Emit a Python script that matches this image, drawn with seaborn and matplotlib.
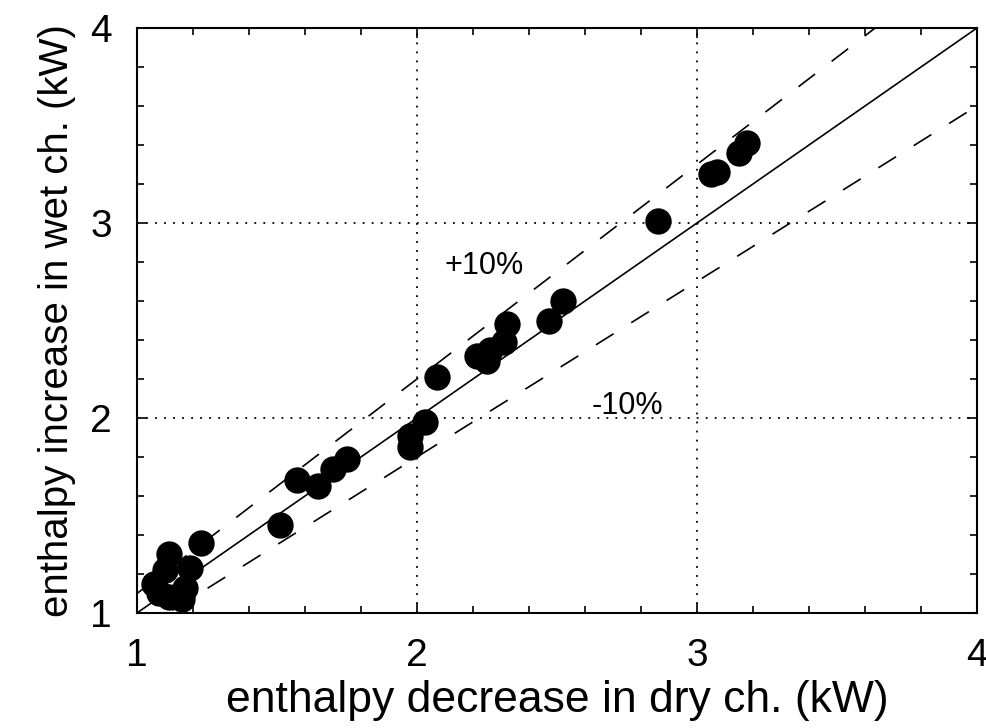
import numpy as np
import matplotlib
matplotlib.use("Agg")
import matplotlib.pyplot as plt
import seaborn as sns
import pandas as pd

# values (kW)
dry_ch = [1.06, 1.10, 1.115, 1.08, 1.17, 1.19, 1.115, 1.16, 1.23, 1.51,
          1.57, 1.645, 1.70, 1.75, 1.975, 1.975, 2.03, 2.07, 2.215, 2.25,
          2.26, 2.31, 2.32, 2.47, 2.52, 2.86, 3.05, 3.07, 3.15, 3.18]
wet_ch = [1.15, 1.22, 1.30, 1.10, 1.13, 1.23, 1.08, 1.07, 1.36, 1.45,
          1.68, 1.65, 1.74, 1.79, 1.91, 1.85, 1.98, 2.21, 2.32, 2.29,
          2.35, 2.39, 2.48, 2.50, 2.60, 3.01, 3.25, 3.26, 3.36, 3.41]

ref_x = [1, 4]
ratios = [1.1, 0.9]

df = pd.DataFrame({"dry": dry_ch, "wet": wet_ch})

sns.set_style("ticks")
plt.rcParams['font.family'] = ['Liberation Sans', 'DejaVu Sans']
plt.rcParams['text.color'] = 'black'
plt.rcParams['axes.labelcolor'] = 'black'
plt.rcParams['xtick.color'] = 'black'
plt.rcParams['ytick.color'] = 'black'

fig = plt.figure(figsize=(9.87, 7.28), dpi=100)
ax = fig.add_axes([0.1388, 0.158, 0.851, 0.8035])

# 1:1 line and +/-10% lines
ax.plot(ref_x, ref_x, color="black", lw=1.2)
for r in ratios:
    ax.plot(ref_x, [v * r for v in ref_x], color="black", lw=1.2,
            linestyle=(0, (12.5, 12.5)))

sns.scatterplot(data=df, x="dry", y="wet", ax=ax, s=360, color="black",
                edgecolor="black", linewidth=0, zorder=3, legend=False)

ax.set_xlim(1, 4)
ax.set_ylim(1, 4)
ax.set_xticks([1, 2, 3, 4])
ax.set_yticks([1, 2, 3, 4])
ax.set_xticks(np.arange(1, 4.01, 0.2), minor=True)
ax.set_yticks(np.arange(1, 4.01, 0.2), minor=True)
ax.grid(which="major", color="black", linestyle=(0, (1, 4)), lw=1.3)

ax.tick_params(which="both", direction="in", top=True, right=True,
               color="black", labelcolor="black", width=1.2)
ax.tick_params(which="major", length=7, labelsize=28, pad=18)
ax.tick_params(which="minor", length=5)
for sp in ax.spines.values():
    sp.set_color("black")
    sp.set_linewidth(1.5)

ax.set_xlabel("enthalpy decrease in dry ch. (kW)", fontsize=32, labelpad=4)
ax.set_ylabel("enthalpy increase in wet ch. (kW)", fontsize=29, labelpad=10)

ax.text(2.24, 2.78, "+10%", fontsize=22, ha="center", va="center")
ax.text(2.75, 2.06, "-10%", fontsize=22, ha="center", va="center")

fig.savefig("out.png", dpi=100)
